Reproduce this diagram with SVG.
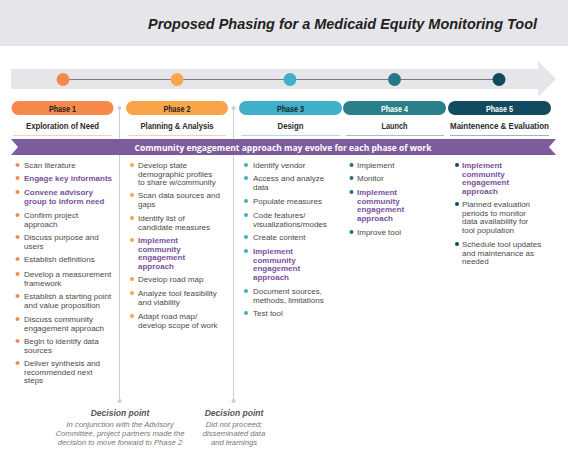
<svg xmlns="http://www.w3.org/2000/svg" width="568" height="454" viewBox="0 0 568 454">
<defs>
<style>
.t{font-family:"Liberation Sans",Arial,sans-serif;font-size:8px;fill:#4a4a4a}
.p{font-family:"Liberation Sans",Arial,sans-serif;font-size:8px;font-weight:700;fill:#7b4f9d}
.ph{font-family:"Liberation Sans",Arial,sans-serif;font-size:9px;font-weight:700;text-anchor:middle}
.sub{font-family:"Liberation Sans",Arial,sans-serif;font-size:9.5px;font-weight:700;fill:#2a2a2a;text-anchor:middle}
.dp{font-family:"Liberation Sans",Arial,sans-serif;font-size:8.5px;font-weight:700;font-style:italic;fill:#555;text-anchor:middle}
.di{font-family:"Liberation Sans",Arial,sans-serif;font-size:7.7px;font-style:italic;fill:#777;text-anchor:middle}
.sep{stroke:#cfcfd3;stroke-width:1}
.b1{fill:#f4894b}.b2{fill:#f9a54a}.b3{fill:#3fb0c7}.b4{fill:#23707f}.b5{fill:#124b5f}
</style>
</defs>
<rect x="0" y="0" width="568" height="46" fill="#e6e6ea"/>
<text x="148" y="29" font-family="Liberation Sans,Arial,sans-serif" font-size="15.5" font-weight="700" font-style="italic" fill="#222" textLength="389" lengthAdjust="spacingAndGlyphs">Proposed Phasing for a Medicaid Equity Monitoring Tool</text>

<g id="timeline">
<polygon points="11,69 538,69 538,61 556,79 538,97 538,89 11,89" fill="#e6e6ea"/>
<line x1="63" y1="79.5" x2="498" y2="79.5" stroke="#7a7a7e" stroke-width="1.2"/>
<circle cx="63" cy="79.5" r="6.5" class="b1"/>
<circle cx="177" cy="79.5" r="6.5" class="b2"/>
<circle cx="290" cy="79.5" r="6.5" class="b3"/>
<circle cx="394.5" cy="79.5" r="6.5" fill="#237a86"/>
<circle cx="499" cy="79.5" r="6.5" class="b5"/>
</g>

<g id="connectors">
<line x1="119.5" y1="108" x2="119.5" y2="401" class="sep"/>
<circle cx="119.5" cy="108" r="2" fill="#cfcfd3"/>
<circle cx="119.5" cy="401" r="2" fill="#cfcfd3"/>
<line x1="233.5" y1="108" x2="233.5" y2="401" class="sep"/>
<circle cx="233.5" cy="108" r="2" fill="#cfcfd3"/>
<circle cx="233.5" cy="401" r="2" fill="#cfcfd3"/>
</g>

<g id="phase1">
<rect x="11.5" y="101" width="102" height="14" rx="7" fill="#f4894b"/>
<text x="62.5" y="111.5" class="ph" fill="#222" textLength="27" lengthAdjust="spacingAndGlyphs">Phase 1</text>
<text x="62.5" y="129" class="sub" textLength="73" lengthAdjust="spacingAndGlyphs">Exploration of Need</text>
<line x1="13" y1="135.5" x2="112" y2="135.5" stroke="#f9cfae" stroke-width="1.2"/>
</g>
<g id="phase2">
<rect x="126" y="101" width="102" height="14" rx="7" fill="#f9a54a"/>
<text x="177" y="111.5" class="ph" fill="#222" textLength="27" lengthAdjust="spacingAndGlyphs">Phase 2</text>
<text x="177" y="129" class="sub" textLength="73" lengthAdjust="spacingAndGlyphs">Planning &amp; Analysis</text>
<line x1="128" y1="135.5" x2="226" y2="135.5" stroke="#f9cfae" stroke-width="1.2"/>
</g>
<g id="phase3">
<rect x="239" y="101" width="103" height="14" rx="7" fill="#3fb0c7"/>
<text x="290.5" y="111.5" class="ph" fill="#222" textLength="27" lengthAdjust="spacingAndGlyphs">Phase 3</text>
<text x="290.5" y="129" class="sub" textLength="26" lengthAdjust="spacingAndGlyphs">Design</text>
<line x1="241" y1="135.5" x2="340" y2="135.5" stroke="#a9dde8" stroke-width="1.2"/>
</g>
<g id="phase4">
<rect x="343" y="101" width="103" height="14" rx="7" fill="#2b7f8b"/>
<text x="394.5" y="111.5" class="ph" fill="#fff" textLength="27" lengthAdjust="spacingAndGlyphs">Phase 4</text>
<text x="394.5" y="129" class="sub" textLength="26" lengthAdjust="spacingAndGlyphs">Launch</text>
<line x1="346" y1="135.5" x2="444" y2="135.5" stroke="#9cc5cb" stroke-width="1.2"/>
</g>
<g id="phase5">
<rect x="448" y="101" width="103" height="14" rx="7" fill="#124b5f"/>
<text x="499.5" y="111.5" class="ph" fill="#fff" textLength="27" lengthAdjust="spacingAndGlyphs">Phase 5</text>
<text x="499.5" y="129" class="sub" textLength="99" lengthAdjust="spacingAndGlyphs">Maintenence &amp; Evaluation</text>
<line x1="450" y1="135.5" x2="549" y2="135.5" stroke="#9ab6bf" stroke-width="1.2"/>
</g>

<g id="banner">
<polygon points="11,139 556,139 549,147 556,155 11,155 18,147" fill="#7d5c9c"/>
<text x="283" y="150.5" font-family="Open Sans,Liberation Sans,sans-serif" font-size="8.5" font-weight="700" fill="#fff" text-anchor="middle" textLength="297" lengthAdjust="spacingAndGlyphs">Community engagement approach may evolve for each phase of work</text>
</g>

<g id="list1">
<circle cx="17.5" cy="165" r="2" class="b1"/><text x="24" y="168" class="t">Scan literature</text>
<circle cx="17.5" cy="178" r="2" class="b1"/><text x="24" y="181" class="p">Engage key informants</text>
<circle cx="17.5" cy="192" r="2" class="b1"/><text x="24" y="195" class="p">Convene advisory<tspan x="24" dy="8.5">group to inform need</tspan></text>
<circle cx="17.5" cy="215" r="2" class="b1"/><text x="24" y="218" class="t">Confirm project<tspan x="24" dy="8.5">approach</tspan></text>
<circle cx="17.5" cy="237" r="2" class="b1"/><text x="24" y="240" class="t">Discuss purpose and<tspan x="24" dy="8.5">users</tspan></text>
<circle cx="17.5" cy="259" r="2" class="b1"/><text x="24" y="262" class="t">Establish definitions</text>
<circle cx="17.5" cy="274" r="2" class="b1"/><text x="24" y="277" class="t">Develop a measurement<tspan x="24" dy="8.5">framework</tspan></text>
<circle cx="17.5" cy="296" r="2" class="b1"/><text x="24" y="299" class="t">Establish a starting point<tspan x="24" dy="8.5">and value proposition</tspan></text>
<circle cx="17.5" cy="319" r="2" class="b1"/><text x="24" y="322" class="t">Discuss community<tspan x="24" dy="8.5">engagement approach</tspan></text>
<circle cx="17.5" cy="341" r="2" class="b1"/><text x="24" y="344" class="t">Begin to identify data<tspan x="24" dy="8.5">sources</tspan></text>
<circle cx="17.5" cy="363" r="2" class="b1"/><text x="24" y="366" class="t">Deliver synthesis and<tspan x="24" dy="8.5">recommended next</tspan><tspan x="24" dy="8.5">steps</tspan></text>
</g>

<g id="list2">
<circle cx="132" cy="165" r="2" class="b2"/><text x="138" y="168" class="t">Develop state<tspan x="138" dy="8.5">demographic profiles</tspan><tspan x="138" dy="8.5">to share w/community</tspan></text>
<circle cx="132" cy="195" r="2" class="b2"/><text x="138" y="198" class="t">Scan data sources and<tspan x="138" dy="8.5">gaps</tspan></text>
<circle cx="132" cy="218" r="2" class="b2"/><text x="138" y="221" class="t">Identify list of<tspan x="138" dy="8.5">candidate measures</tspan></text>
<circle cx="132" cy="240" r="2" class="b2"/><text x="138" y="243" class="p">Implement<tspan x="138" dy="8.5">community</tspan><tspan x="138" dy="8.5">engagement</tspan><tspan x="138" dy="8.5">approach</tspan></text>
<circle cx="132" cy="279" r="2" class="b2"/><text x="138" y="282" class="t">Develop road map</text>
<circle cx="132" cy="293" r="2" class="b2"/><text x="138" y="296" class="t">Analyze tool feasibility<tspan x="138" dy="8.5">and viability</tspan></text>
<circle cx="132" cy="316" r="2" class="b2"/><text x="138" y="319" class="t">Adapt road map/<tspan x="138" dy="8.5">develop scope of work</tspan></text>
</g>

<g id="list3">
<circle cx="246" cy="165" r="2" class="b3"/><text x="253" y="168" class="t">Identify vendor</text>
<circle cx="246" cy="178" r="2" class="b3"/><text x="253" y="181" class="t">Access and analyze<tspan x="253" dy="8.5">data</tspan></text>
<circle cx="246" cy="201" r="2" class="b3"/><text x="253" y="204" class="t">Populate measures</text>
<circle cx="246" cy="215" r="2" class="b3"/><text x="253" y="218" class="t">Code features/<tspan x="253" dy="8.5">visualizations/modes</tspan></text>
<circle cx="246" cy="237" r="2" class="b3"/><text x="253" y="240" class="t">Create content</text>
<circle cx="246" cy="251" r="2" class="b3"/><text x="253" y="254" class="p">Implement<tspan x="253" dy="8.5">community</tspan><tspan x="253" dy="8.5">engagement</tspan><tspan x="253" dy="8.5">approach</tspan></text>
<circle cx="246" cy="291" r="2" class="b3"/><text x="253" y="294" class="t">Document sources,<tspan x="253" dy="8.5">methods, limitations</tspan></text>
<circle cx="246" cy="313" r="2" class="b3"/><text x="253" y="316" class="t">Test tool</text>
</g>

<g id="list4">
<circle cx="351.5" cy="165" r="2" class="b4"/><text x="357" y="168" class="t">Implement</text>
<circle cx="351.5" cy="178" r="2" class="b4"/><text x="357" y="181" class="t">Monitor</text>
<circle cx="351.5" cy="192" r="2" class="b4"/><text x="357" y="195" class="p">Implement<tspan x="357" dy="8.5">community</tspan><tspan x="357" dy="8.5">engagement</tspan><tspan x="357" dy="8.5">approach</tspan></text>
<circle cx="351.5" cy="232" r="2" class="b4"/><text x="357" y="235" class="t">Improve tool</text>
</g>

<g id="list5">
<circle cx="457" cy="165" r="2" class="b5"/><text x="462" y="168" class="p">Implement<tspan x="462" dy="8.5">community</tspan><tspan x="462" dy="8.5">engagement</tspan><tspan x="462" dy="8.5">approach</tspan></text>
<circle cx="457" cy="204" r="2" class="b5"/><text x="462" y="207" class="t">Planned evaluation<tspan x="462" dy="8.5">periods to monitor</tspan><tspan x="462" dy="8.5">data availability for</tspan><tspan x="462" dy="8.5">tool population</tspan></text>
<circle cx="457" cy="244" r="2" class="b5"/><text x="462" y="247" class="t">Schedule tool updates<tspan x="462" dy="8.5">and maintenance as</tspan><tspan x="462" dy="8.5">needed</tspan></text>
</g>

<g id="decision1">
<text x="120" y="416" class="dp">Decision point</text>
<text x="120" y="427" class="di">In conjunction with the Advisory<tspan x="120" dy="9">Committee, project partners made the</tspan><tspan x="120" dy="9">decision to move forward to Phase 2</tspan></text>
</g>
<g id="decision2">
<text x="234" y="416" class="dp">Decision point</text>
<text x="234" y="427" class="di">Did not proceed;<tspan x="234" dy="9">disseminated data</tspan><tspan x="234" dy="9">and learnings</tspan></text>
</g>
</svg>
